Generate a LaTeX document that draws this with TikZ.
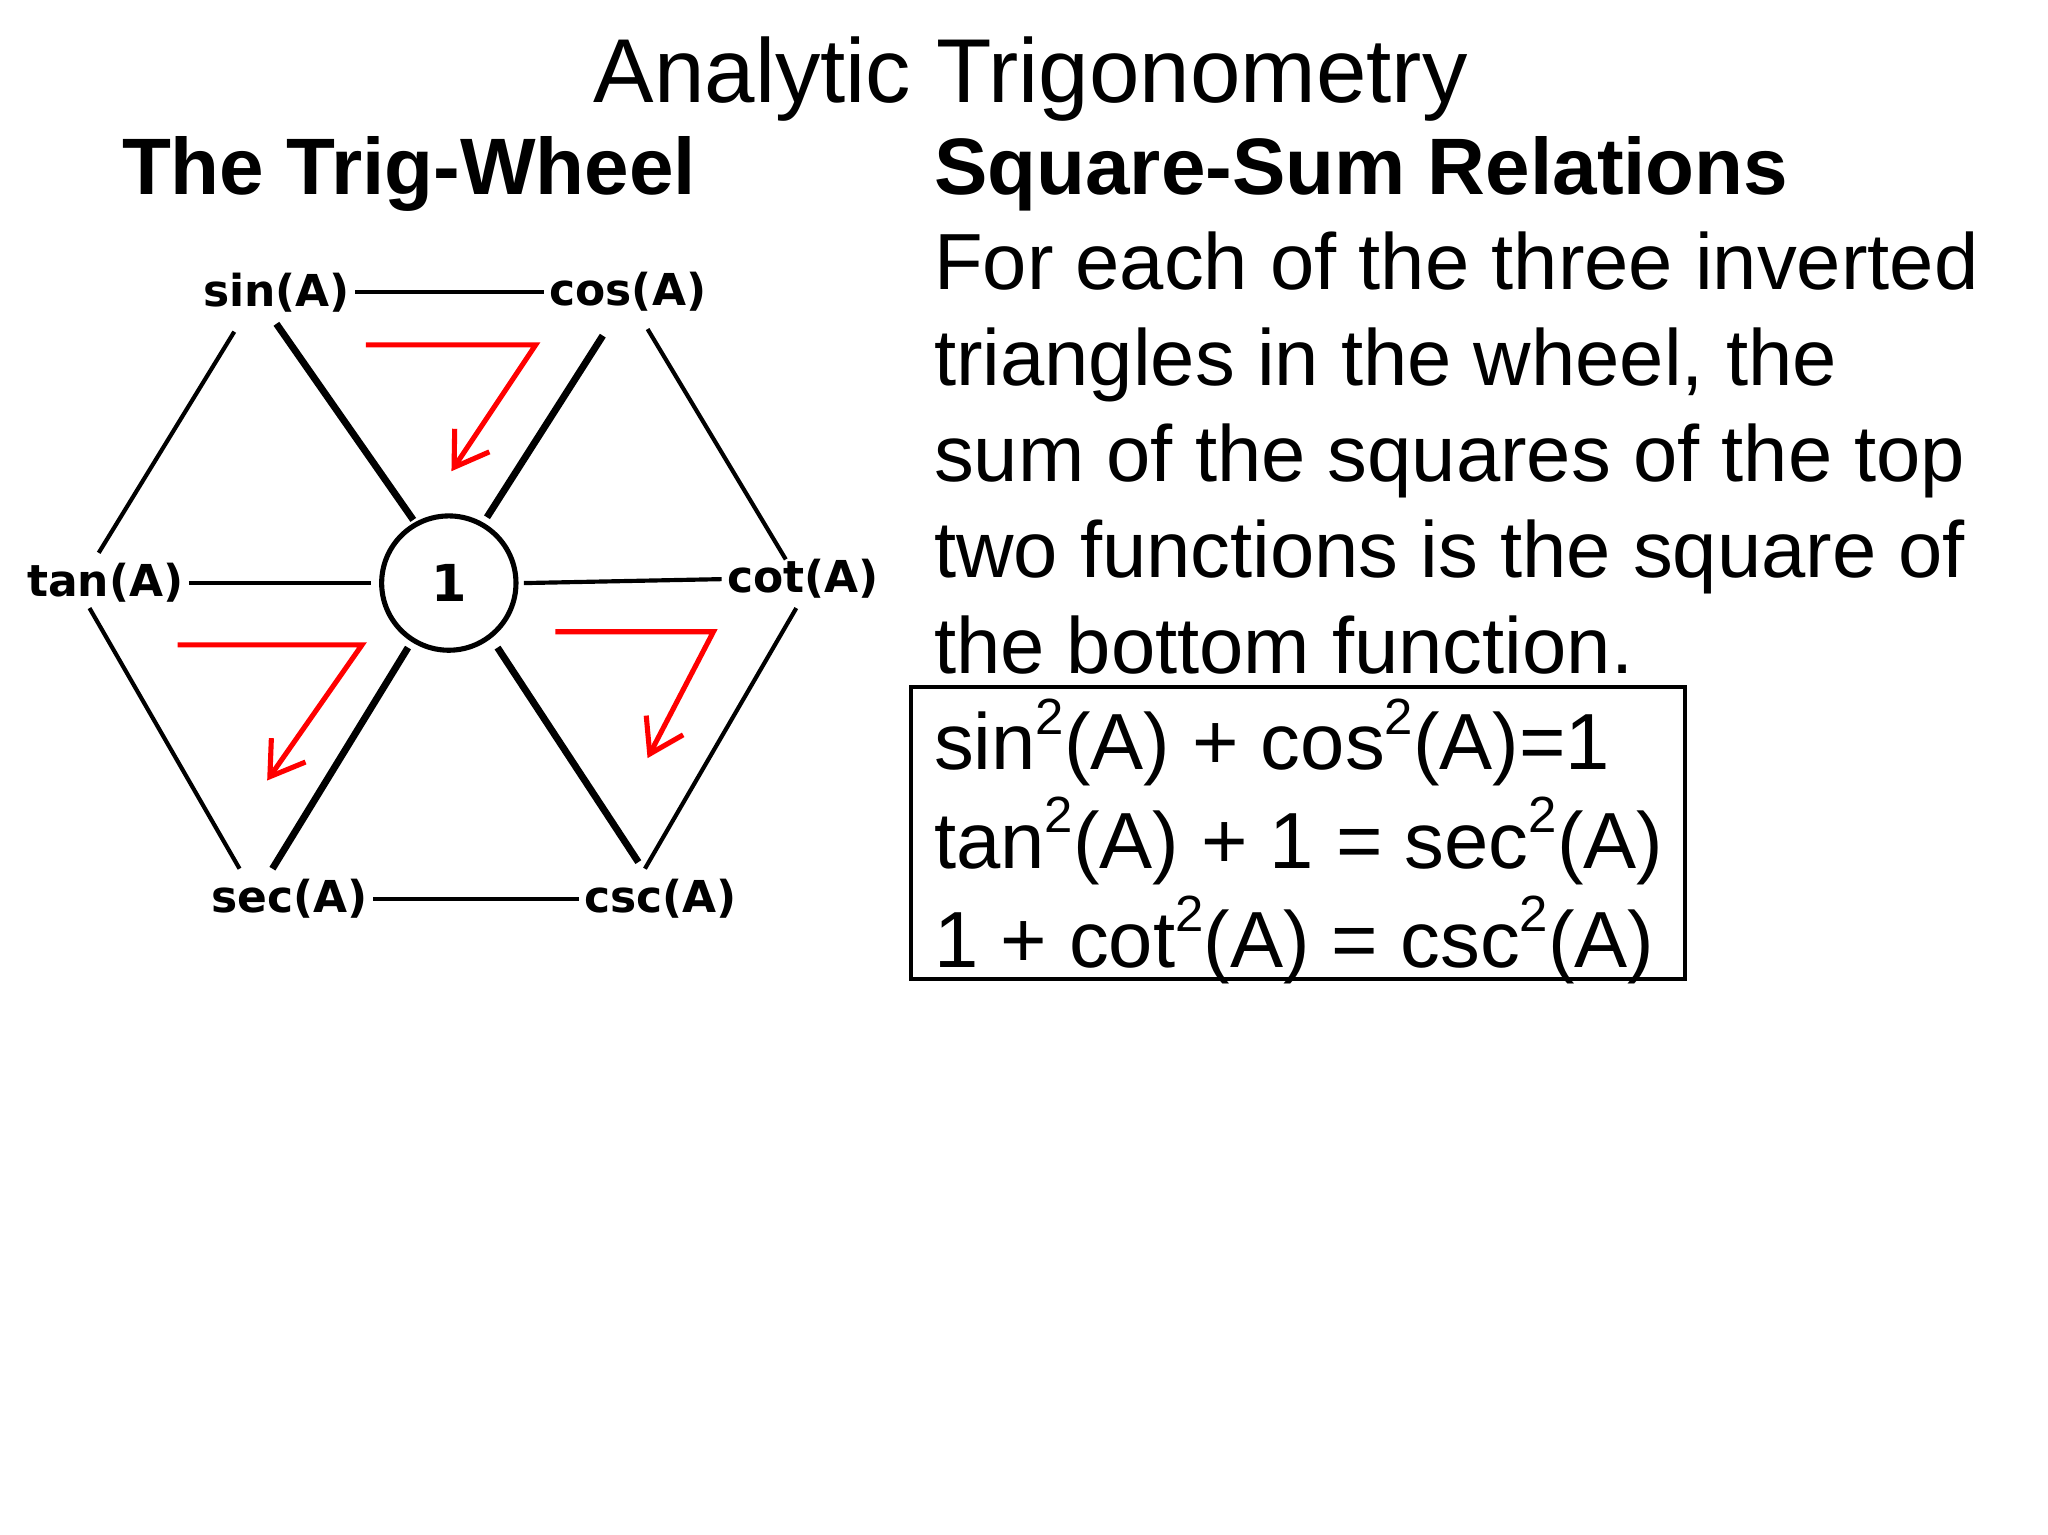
\documentclass[tikz,border=0pt]{standalone}
\usepackage{fontspec}
\usetikzlibrary{arrows.meta}
\setmainfont{Liberation Sans}
\newfontfamily\wheelfont{DejaVu Sans}
\newcommand{\sq}{\raisebox{0.45em}{\fontsize{11}{12}\selectfont 2}}
\begin{document}
\begin{tikzpicture}[x=0.01cm,y=-0.01cm,
  lab/.style={font=\wheelfont\bfseries\fontsize{9.5}{11}\selectfont,inner sep=1pt},
  thin line/.style={line width=0.9pt},
  thick line/.style={line width=1.5pt},
  redarrow/.style={red,line width=1.1pt,-{Straight Barb[length=7pt,width=9pt]}},
  body/.style={anchor=base west,font=\fontsize{17.2}{20}\selectfont,inner sep=0pt}]
\useasboundingbox (0,0) rectangle (1556,1166);
\node[anchor=base,font=\fontsize{19.6}{23}\selectfont,inner sep=0pt] (title) at (783,78) {Analytic Trigonometry};
\node[anchor=base west,font=\bfseries\fontsize{17.3}{21}\selectfont,inner sep=0pt] (wt) at (92,148) {The Trig-Wheel};
\node[anchor=base west,font=\bfseries\fontsize{17.3}{21}\selectfont,inner sep=0pt] (st) at (709,148) {Square-Sum Relations};
\node[body] (l1) at (709,220) {For each of the three inverted};
\node[body] (l2) at (709,293) {triangles in the wheel, the};
\node[body] (l3) at (709,366) {sum of the squares of the top};
\node[body] (l4) at (709,439) {two functions is the square of};
\node[body] (l5) at (709,512) {the bottom function.};
\draw[line width=0.8pt] (692,522) rectangle (1280,744);
\node[body] (f1) at (709,585) {sin\sq(A) + cos\sq(A)=1};
\node[body] (f2) at (709,660) {tan\sq(A) + 1 = sec\sq(A)};
\node[body] (f3) at (709,735) {1 + cot\sq(A) = csc\sq(A)};
% wheel
\node[lab] (sin) at (210,222) {sin(A)};
\node[lab] (cos) at (477,222) {cos(A)};
\node[lab] (tan) at (80,443) {tan(A)};
\node[lab] (cot) at (610,440) {cot(A)};
\node[lab] (sec) at (220,683) {sec(A)};
\node[lab] (csc) at (502,683) {csc(A)};
\node[draw,circle,line width=1.1pt,minimum size=1.02cm,font=\wheelfont\bfseries\fontsize{11}{13}\selectfont] (one) at (341,443) {1};
\draw[thin line] (sin.east) -- (cos.west);
\draw[thin line] (sec.east) -- (csc.west);
\draw[thin line] (tan.east) -- (282,443);
\draw[thin line] (398,443) -- (cot.west);
\draw[thin line] (178,252) -- (75,420);
\draw[thin line] (492,250) -- (597,425);
\draw[thin line] (68,462) -- (182,660);
\draw[thin line] (605,462) -- (490,660);
\draw[thick line] (210,246) -- (314,395);
\draw[thick line] (458,255) -- (370,393);
\draw[thick line] (310,492) -- (207,660);
\draw[thick line] (378,492) -- (485,655);
\draw[redarrow] (278,262) -- (407,262) -- (343,358);
\draw[redarrow] (135,490) -- (275,490) -- (203,593);
\draw[redarrow] (422,480) -- (542,480) -- (492,576);
\end{tikzpicture}
\end{document}
